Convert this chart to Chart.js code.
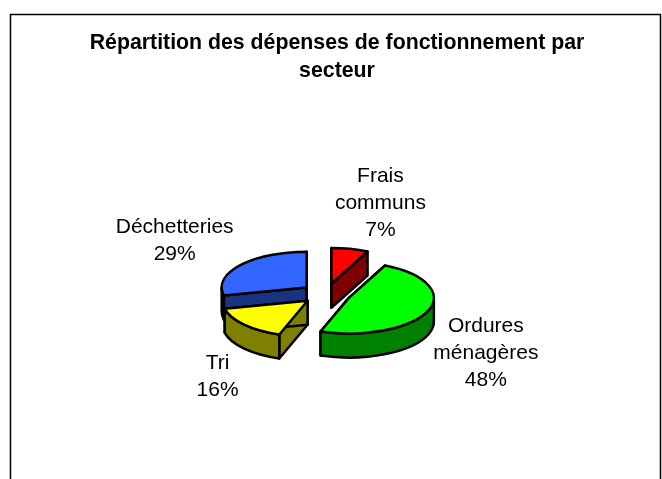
<!DOCTYPE html>
<html>
<head>
<meta charset="utf-8">
<style>
  html, body { margin: 0; background: #fff; }
  canvas { display: block; }
</style>
<script src="https://cdn.jsdelivr.net/npm/chart.js@4"></script>
</head>
<body>
<canvas id="chart" width="662" height="479"></canvas>
<script>
const titleLines = ["Répartition des dépenses de fonctionnement par", "secteur"];
const categories = ["Frais communs", "Ordures ménagères", "Tri", "Déchetteries"];
const shares = [7, 48.4, 16, 28.6];
const labelLines = [["Frais", "communs"], ["Ordures", "ménagères"], ["Tri"], ["Déchetteries"]];
const topColors = ["#ff0000", "#00ff00", "#ffff00", "#3366ff"];
const wallColors = ["#800000", "#008000", "#808000", "#1a3380"];
const labelOffsets = [[49, -81], [137, 55], [-90, 76], [-132, -46.5]];

const SQUASH = 0.42;
const DEPTH = 24;
const EXPLODE = 24.7;
const SHIFT_X = -11;
const FONT = '"Liberation Sans", Arial, sans-serif';

const slicePath = (ctx, x, y, r, start, end) => {
  ctx.beginPath();
  ctx.moveTo(x, y);
  ctx.ellipse(x, y, r, r * SQUASH, 0, start, end);
  ctx.closePath();
};

const paintPath = (ctx, fill) => {
  ctx.fillStyle = fill;
  ctx.fill();
  ctx.stroke();
};

const radialWall = (ctx, x, y, r, angle, fill) => {
  const ox = x + Math.cos(angle) * r;
  const oy = y + Math.sin(angle) * r * SQUASH;
  ctx.beginPath();
  ctx.moveTo(x, y);
  ctx.lineTo(ox, oy);
  ctx.lineTo(ox, oy + DEPTH);
  ctx.lineTo(x, y + DEPTH);
  ctx.closePath();
  paintPath(ctx, fill);
};

const outerWall = (ctx, x, y, r, start, end, fill) => {
  // only the part of the rim that faces the viewer
  const ranges = [[start, end], [start - 2 * Math.PI, end - 2 * Math.PI]];
  ranges.forEach(([a, b]) => {
    const from = Math.max(a, 0);
    const to = Math.min(b, Math.PI);
    if (to <= from) return;
    ctx.beginPath();
    ctx.ellipse(x, y, r, r * SQUASH, 0, from, to);
    ctx.ellipse(x, y + DEPTH, r, r * SQUASH, 0, to, from, true);
    ctx.closePath();
    paintPath(ctx, fill);
  });
};

const explodedCenter = (arc) => {
  const mid = (arc.startAngle + arc.endAngle) / 2;
  return {
    x: arc.x + SHIFT_X + Math.cos(mid) * EXPLODE,
    y: arc.y + Math.sin(mid) * EXPLODE * SQUASH,
  };
};

const pie3d = {
  id: "pie3d",
  beforeDraw: ({ ctx, width, height }) => {
    ctx.save();
    ctx.fillStyle = "#fff";
    ctx.fillRect(0, 0, width, height);
    ctx.strokeStyle = "#000";
    ctx.lineWidth = 1.5;
    ctx.strokeRect(10.5, 14.5, width - 12, height + 20);
    ctx.restore();
  },
  beforeDatasetDraw: (chart, { meta }) => {
    const { ctx } = chart;
    const order = meta.data
      .map((arc, i) => ({ arc, i, center: explodedCenter(arc) }))
      .sort((a, b) => a.center.y - b.center.y);

    ctx.save();
    ctx.lineWidth = 2.5;
    ctx.lineJoin = "round";
    ctx.strokeStyle = "#000";
    order.forEach(({ arc, i, center }) => {
      const { startAngle, endAngle, outerRadius: r } = arc;
      radialWall(ctx, center.x, center.y, r, startAngle, wallColors[i]);
      radialWall(ctx, center.x, center.y, r, endAngle, wallColors[i]);
      outerWall(ctx, center.x, center.y, r, startAngle, endAngle, wallColors[i]);

      // top face is the library's own arc, flattened and moved out
      ctx.save();
      ctx.translate(center.x, center.y);
      ctx.scale(1, SQUASH);
      ctx.translate(-arc.x, -arc.y);
      arc.draw(ctx);
      ctx.restore();

      slicePath(ctx, center.x, center.y, r, startAngle, endAngle);
      ctx.stroke();
    });
    ctx.restore();
    return false;
  },
  afterDatasetsDraw: (chart) => {
    const { ctx } = chart;
    const arcs = chart.getDatasetMeta(0).data;
    ctx.save();
    ctx.fillStyle = "#000";
    ctx.font = `21px ${FONT}`;
    ctx.textAlign = "center";
    ctx.textBaseline = "middle";
    arcs.forEach((arc, i) => {
      const center = explodedCenter(arc);
      const lines = [...labelLines[i], `${Math.round(shares[i])}%`];
      const x = center.x + labelOffsets[i][0];
      const y = center.y + labelOffsets[i][1] - ((lines.length - 1) * 27) / 2;
      lines.forEach((line, n) => ctx.fillText(line, x, y + n * 27));
    });
    ctx.restore();
  },
};

new Chart(document.getElementById("chart"), {
  type: "pie",
  data: {
    labels: categories,
    datasets: [{ data: shares, backgroundColor: topColors, borderWidth: 0 }],
  },
  options: {
    responsive: false,
    animation: false,
    radius: 85,
    layout: { padding: { left: 12 } },
    plugins: {
      legend: { display: false },
      tooltip: { enabled: false },
      title: {
        display: true,
        text: titleLines,
        color: "#000",
        font: { family: FONT, size: 21.3, weight: "bold", lineHeight: 1.31 },
        padding: { top: 29, bottom: 24 },
      },
    },
  },
  plugins: [pie3d],
});
</script>
</body>
</html>
